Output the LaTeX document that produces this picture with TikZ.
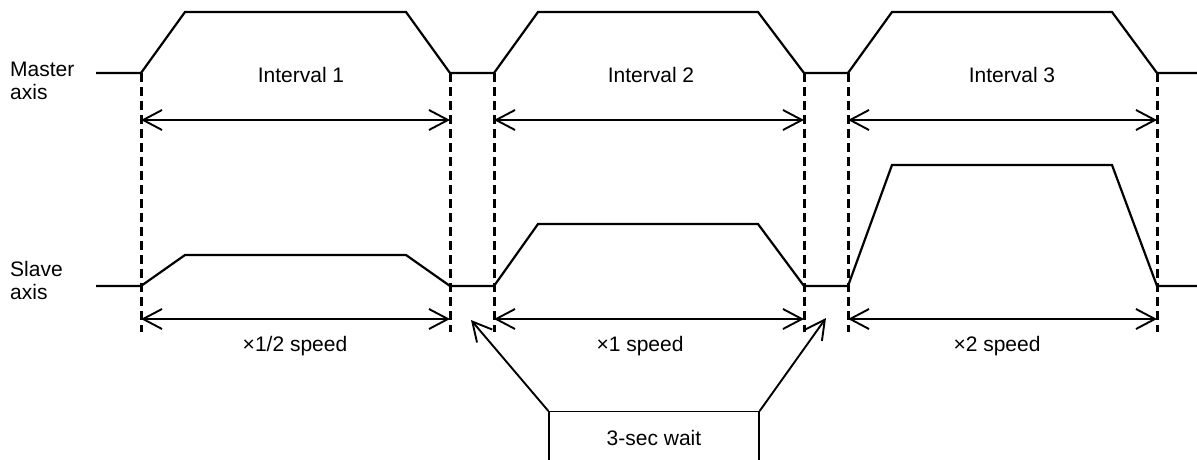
\documentclass[tikz,border=0pt]{standalone}
\usepackage{fontspec}
\setmainfont{Liberation Sans}
\usetikzlibrary{arrows.meta}
\begin{document}
\begin{tikzpicture}[x=1pt,y=-1pt,
  prof/.style={line width=2.2pt, line join=miter},
  guide/.style={line width=3pt, dash pattern=on 9pt off 5pt},
  barb/.tip={Straight Barb[length=19pt,width=20pt,line width=1.9pt]},
  dim/.style={line width=1.9pt, barb-barb},
  callout/.style={line width=1.9pt, -barb},
  lbl/.style={font=\fontsize{21}{23}\selectfont, inner sep=0pt},
  box/.style={draw, line width=1.3pt, minimum width=210pt, text height=15pt, text depth=40pt, inner ysep=19pt},
]
\useasboundingbox (0,0) rectangle (1197,460);
\clip (0,0) rectangle (1197,460);

% axis labels
\node[lbl, anchor=west, align=left] (master) at (10,81) {Master\\axis};
\node[lbl, anchor=west, align=left] (slave) at (10,280) {Slave\\axis};

% master profile
\draw[prof] (96,73) -- (141,73) -- (185,12) -- (406,12) -- (450,73)
  -- (494,73) -- (538,12) -- (758,12) -- (804,73)
  -- (848,73) -- (892,12) -- (1112,12) -- (1157,73) -- (1197,73);

% slave profile
\draw[prof] (96,286) -- (141,286) -- (185,255) -- (406,255) -- (450,286)
  -- (494,286) -- (538,224) -- (758,224) -- (804,286)
  -- (848,286) -- (892,165) -- (1112,165) -- (1157,286) -- (1197,286);

% dashed guides
\foreach \x/\n in {141/g1,450/g2,494/g3,804/g4,848/g5,1157/g6}{
  \coordinate (\n t) at (\x,73);
  \coordinate (\n b) at (\x,332);
  \coordinate (\n m) at (\x,120);
  \coordinate (\n s) at (\x,319);
  \draw[guide] (\n t) -- (\n b);
}

% master dimension arrows
\draw[dim] (g1m) -- (g2m);
\draw[dim] (g3m) -- (g4m);
\draw[dim] (g5m) -- (g6m);

% slave dimension arrows
\draw[dim] (g1s) -- (g2s);
\draw[dim] (g3s) -- (g4s);
\draw[dim] (g5s) -- (g6s);

% interval labels
\node[lbl, anchor=base] (i1) at (301,83) {Interval 1};
\node[lbl, anchor=base] (i2) at (651,83) {Interval 2};
\node[lbl, anchor=base] (i3) at (1012,83) {Interval 3};

% speed labels
\node[lbl, anchor=base] (s1) at (295,351) {×1/2 speed};
\node[lbl, anchor=base] (s2) at (640,351) {×1 speed};
\node[lbl, anchor=base] (s3) at (997,351) {×2 speed};

% wait box and callouts
\node[lbl, box, anchor=north] (wait) at (654,411) {3-sec wait};
\coordinate (w1) at (471,320);
\coordinate (w2) at (826,318);
\draw[callout] (wait.north west) -- (w1);
\draw[callout] (wait.north east) -- (w2);
\end{tikzpicture}
\end{document}
